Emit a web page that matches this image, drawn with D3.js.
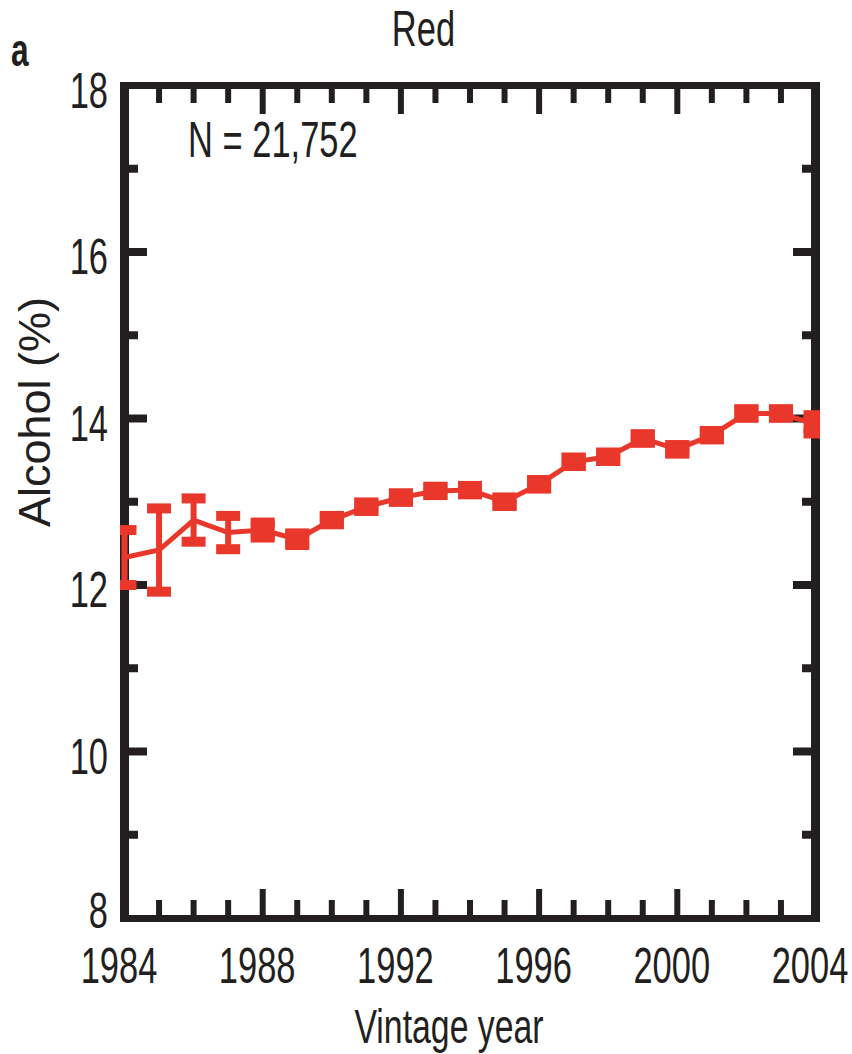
<!DOCTYPE html>
<html><head><meta charset="utf-8">
<script src="https://cdn.jsdelivr.net/npm/d3@7"></script>
<style>
html,body{margin:0;padding:0;background:#fff;}
text{font-family:"Liberation Sans",Arial,sans-serif;fill:#231f20;}
</style></head>
<body>
<svg id="chart" width="852" height="1054"></svg>
<script>
// ---- data ----
const years = [1984,1985,1986,1987,1988,1989,1990,1991,1992,1993,1994,1995,1996,1997,1998,1999,2000,2001,2002,2003,2004];
const alcohol = [12.33,12.42,12.78,12.63,12.66,12.55,12.78,12.94,13.05,13.13,13.14,13.00,13.21,13.48,13.54,13.76,13.63,13.80,14.06,14.06,13.93];
const errors  = [0.33,0.50,0.26,0.20,0.09,0.07,0.05,0.05,0.05,0.05,0.05,0.05,0.05,0.05,0.05,0.05,0.05,0.05,0.05,0.05,0.11];
const xTickLabels = [1984,1988,1992,1996,2000,2004];
const yTickLabels = [8,10,12,14,16,18];
const title = "Red";
const panelLabel = "a";
const nLabel = "N = 21,752";
const xTitle = "Vintage year";
const yTitle = "Alcohol (%)";
const markerFromYear = 1988;

// ---- layout ----
const svg = d3.select("#chart");
const red = "#e9382b", ink = "#231f20";
const x = d3.scaleLinear().domain([1984,2004]).range([124.5,815.5]);
const y = d3.scaleLinear().domain([8,18]).range([918,85.5]);
const SX = 0.69;

function label(txt, tx, ty, anchor, size, weight){
  svg.append("text")
    .attr("transform",`translate(${tx},${ty}) scale(${SX},1)`)
    .attr("text-anchor",anchor)
    .style("font-size",size+"px")
    .style("font-weight",weight||"normal")
    .text(txt);
}

// frame
const L = 124.5, R = 815.5, T = 85.5, B = 918.5;
const frame = svg.append("g");
frame.append("line").attr("x1",L).attr("x2",L).attr("y1",T-3.5).attr("y2",B+3.5).attr("stroke",ink).attr("stroke-width",9);
frame.append("line").attr("x1",R).attr("x2",R).attr("y1",T-3.5).attr("y2",B+3.5).attr("stroke",ink).attr("stroke-width",9);
frame.append("line").attr("x1",L-4.5).attr("x2",R+4.5).attr("y1",T).attr("y2",T).attr("stroke",ink).attr("stroke-width",7);
frame.append("line").attr("x1",L-4.5).attr("x2",R+4.5).attr("y1",B).attr("y2",B).attr("stroke",ink).attr("stroke-width",7);

// x ticks (bottom up, top down)
const xt = d3.range(1985,2004);
xt.forEach(yr=>{
  const major = (yr-1984)%4===0;
  const xp = x(yr);
  frame.append("line").attr("x1",xp).attr("x2",xp).attr("y1",B-3.5).attr("y2",B-3.5-(major?26:15)).attr("stroke",ink).attr("stroke-width",6);
  frame.append("line").attr("x1",xp).attr("x2",xp).attr("y1",T+3.5).attr("y2",T+3.5+(major?25:14)).attr("stroke",ink).attr("stroke-width",6);
});
// y ticks
d3.range(9,18).forEach(v=>{
  const major = v%2===0;
  const yp = y(v);
  frame.append("line").attr("x1",L+4.5).attr("x2",L+4.5+(major?18:9)).attr("y1",yp).attr("y2",yp).attr("stroke",ink).attr("stroke-width",8);
  frame.append("line").attr("x1",R-4.5).attr("x2",R-4.5-(major?18:9)).attr("y1",yp).attr("y2",yp).attr("stroke",ink).attr("stroke-width",8);
});

// tick labels
xTickLabels.forEach(v=> label(String(v), x(v)-5.5, 982.5, "middle", 50));
yTickLabels.forEach(v=> label(String(v), 108, Math.min(y(v)+22, 928), "end", 50));

// titles
label(title, 423.5, 45.5, "middle", 50);
label(panelLabel, 11, 66, "start", 46, "bold");
label(nLabel, 188, 156.5, "start", 50);
label(xTitle, 449, 1043, "middle", 49);
svg.append("text")
  .attr("transform","translate(50,412) rotate(-90)")
  .attr("text-anchor","middle")
  .style("font-size","45px")
  .text(yTitle);

// data
svg.append("defs").append("clipPath").attr("id","clip")
  .append("rect").attr("x",120).attr("y",60).attr("width",700).attr("height",880);
const g = svg.append("g").attr("clip-path","url(#clip)");
const pts = years.map((yr,i)=>({yr, v:alcohol[i], e:errors[i]}));

g.append("path").datum(pts)
  .attr("d", d3.line().x(d=>x(d.yr)).y(d=>y(d.v)))
  .attr("fill","none").attr("stroke",red).attr("stroke-width",5);

// error bars
const eb = g.selectAll("g.eb").data(pts).join("g");
eb.append("rect")
  .attr("x",d=>x(d.yr)-3).attr("width",6)
  .attr("y",d=>y(d.v+d.e)).attr("height",d=>y(d.v-d.e)-y(d.v+d.e))
  .attr("fill",red);
eb.append("rect")
  .attr("x",d=>x(d.yr)-12).attr("width",24)
  .attr("y",d=>y(d.v+d.e)-5).attr("height",10).attr("fill",red);
eb.append("rect")
  .attr("x",d=>x(d.yr)-12).attr("width",24)
  .attr("y",d=>y(d.v-d.e)-5).attr("height",10).attr("fill",red);

// square markers
g.selectAll("rect.mk").data(pts.filter(d=>d.yr>=markerFromYear)).join("rect")
  .attr("class","mk")
  .attr("x",d=>x(d.yr)-12).attr("y",d=>y(d.v)-9)
  .attr("width",24).attr("height",18).attr("fill",red);
</script>
</body></html>
